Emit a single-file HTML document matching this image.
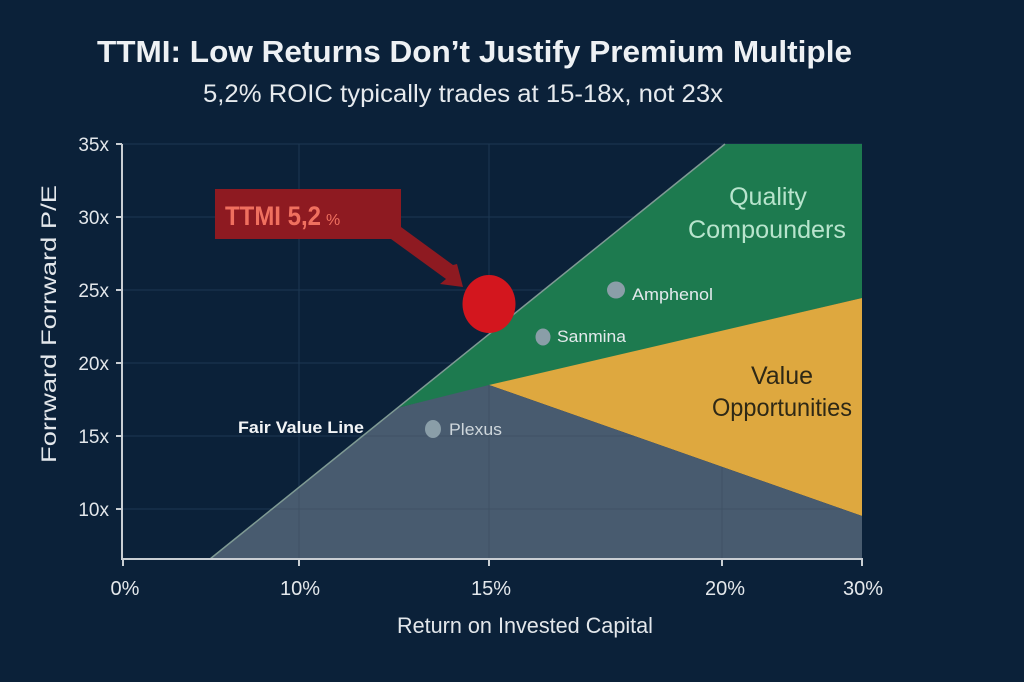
<!DOCTYPE html>
<html>
<head>
<meta charset="utf-8">
<style>
  html,body{margin:0;padding:0;background:#0b2139;}
  svg{display:block;}
  text{font-family:"Liberation Sans", sans-serif;}
</style>
</head>
<body>
<svg width="1024" height="682" viewBox="0 0 1024 682" xmlns="http://www.w3.org/2000/svg">
  <defs>
    <clipPath id="grayclip">
      <polygon points="210,559 397,408 489,385 862,516 862,559"/>
    </clipPath>
  </defs>
  <rect x="0" y="0" width="1024" height="682" fill="#0b2139"/>

  <!-- Title -->
  <text x="97" y="62" font-size="31" font-weight="bold" fill="#eef1f4" textLength="755" lengthAdjust="spacingAndGlyphs">TTMI: Low Returns Don’t Justify Premium Multiple</text>
  <text x="203" y="102" font-size="25" fill="#e6eaee" textLength="520" lengthAdjust="spacingAndGlyphs">5,2% ROIC typically trades at 15-18x, not 23x</text>

  <!-- gridlines -->
  <g stroke="#1d3852" stroke-width="1">
    <line x1="122" y1="144" x2="862" y2="144"/>
    <line x1="122" y1="217" x2="862" y2="217"/>
    <line x1="122" y1="290" x2="862" y2="290"/>
    <line x1="122" y1="363" x2="862" y2="363"/>
    <line x1="122" y1="436" x2="862" y2="436"/>
    <line x1="122" y1="509" x2="862" y2="509"/>
    <line x1="299" y1="144" x2="299" y2="559"/>
    <line x1="489" y1="144" x2="489" y2="559"/>
    <line x1="722" y1="144" x2="722" y2="559"/>
  </g>

  <!-- regions -->
  <polygon points="397,408 725,144 862,144 862,298" fill="#1d7a4f"/>
  <polygon points="489,385 862,298 862,516" fill="#dea83f"/>
  <polygon points="210,559 397,408 489,385 862,516 862,559" fill="#485b6f"/>
  <!-- faint gridlines over gray -->
  <g stroke="#3f5164" stroke-width="1" clip-path="url(#grayclip)">
    <line x1="299" y1="144" x2="299" y2="559"/>
    <line x1="489" y1="144" x2="489" y2="559"/>
    <line x1="722" y1="144" x2="722" y2="559"/>
    <line x1="122" y1="509" x2="862" y2="509"/>
    <line x1="122" y1="436" x2="862" y2="436"/>
  </g>
  <!-- fair value line -->
  <line x1="210" y1="559" x2="725" y2="144" stroke="#7f9a94" stroke-width="1.5"/>

  <!-- axes -->
  <g stroke="#c9ced3" stroke-width="2" fill="none">
    <line x1="122" y1="144" x2="122" y2="560"/>
    <line x1="121" y1="559" x2="863" y2="559"/>
    <line x1="116" y1="144" x2="122" y2="144"/>
    <line x1="116" y1="217" x2="122" y2="217"/>
    <line x1="116" y1="290" x2="122" y2="290"/>
    <line x1="116" y1="363" x2="122" y2="363"/>
    <line x1="116" y1="436" x2="122" y2="436"/>
    <line x1="116" y1="509" x2="122" y2="509"/>
    <line x1="123" y1="559" x2="123" y2="566"/>
    <line x1="299" y1="559" x2="299" y2="566"/>
    <line x1="489" y1="559" x2="489" y2="566"/>
    <line x1="722" y1="559" x2="722" y2="566"/>
    <line x1="862" y1="559" x2="862" y2="566"/>
  </g>

  <!-- y tick labels -->
  <g font-size="19" fill="#e3e7eb" text-anchor="end">
    <text x="109" y="151">35x</text>
    <text x="109" y="224">30x</text>
    <text x="109" y="297">25x</text>
    <text x="109" y="370">20x</text>
    <text x="109" y="443">15x</text>
    <text x="109" y="516">10x</text>
  </g>
  <!-- x tick labels -->
  <g font-size="20" fill="#e3e7eb" text-anchor="middle">
    <text x="125" y="595">0%</text>
    <text x="300" y="595">10%</text>
    <text x="491" y="595">15%</text>
    <text x="725" y="595">20%</text>
    <text x="863" y="595">30%</text>
  </g>
  <text x="397" y="633" font-size="22" fill="#e3e7eb" textLength="256" lengthAdjust="spacingAndGlyphs">Return on Invested Capital</text>
  <text transform="translate(56,463) rotate(-90)" x="0" y="0" font-size="21" fill="#e3e7eb" textLength="278" lengthAdjust="spacingAndGlyphs">Forrward Forrward P/E</text>

  <!-- region labels -->
  <g font-size="25" fill="#b8e4cd" text-anchor="middle">
    <text x="768" y="205">Quality</text>
    <text x="767" y="238" textLength="158" lengthAdjust="spacingAndGlyphs">Compounders</text>
  </g>
  <g font-size="25" fill="#2e2816" text-anchor="middle">
    <text x="782" y="384">Value</text>
    <text x="782" y="416" textLength="140" lengthAdjust="spacingAndGlyphs">Opportunities</text>
  </g>

  <!-- companies -->
  <g fill="#8a9ea8">
    <ellipse cx="616" cy="290" rx="9" ry="8.5"/>
    <ellipse cx="543" cy="337" rx="7.5" ry="8.5"/>
    <ellipse cx="433" cy="429" rx="8" ry="9"/>
  </g>
  <g font-size="17" fill="#e3e9ec">
    <text x="632" y="300" textLength="81" lengthAdjust="spacingAndGlyphs">Amphenol</text>
    <text x="557" y="342" textLength="69" lengthAdjust="spacingAndGlyphs">Sanmina</text>
    <text x="449" y="435" fill="#cfd7dc" textLength="53" lengthAdjust="spacingAndGlyphs">Plexus</text>
  </g>
  <text x="238" y="433" font-size="17" font-weight="bold" fill="#f2f4f6" textLength="126" lengthAdjust="spacingAndGlyphs">Fair Value Line</text>

  <!-- TTMI callout -->
  <polygon points="215,189 401,189 401,227 453,265 457,264 463,287 440,284 446,279 391,239 215,239" fill="#8e1a21"/>
  <text x="225" y="225" font-size="27" font-weight="bold" fill="#f0705f" textLength="96" lengthAdjust="spacingAndGlyphs">TTMI 5,2</text>
  <text x="326" y="225" font-size="16" fill="#f0705f">%</text>
  <ellipse cx="489" cy="304" rx="26.5" ry="29" fill="#d3161e"/>
</svg>
</body>
</html>
